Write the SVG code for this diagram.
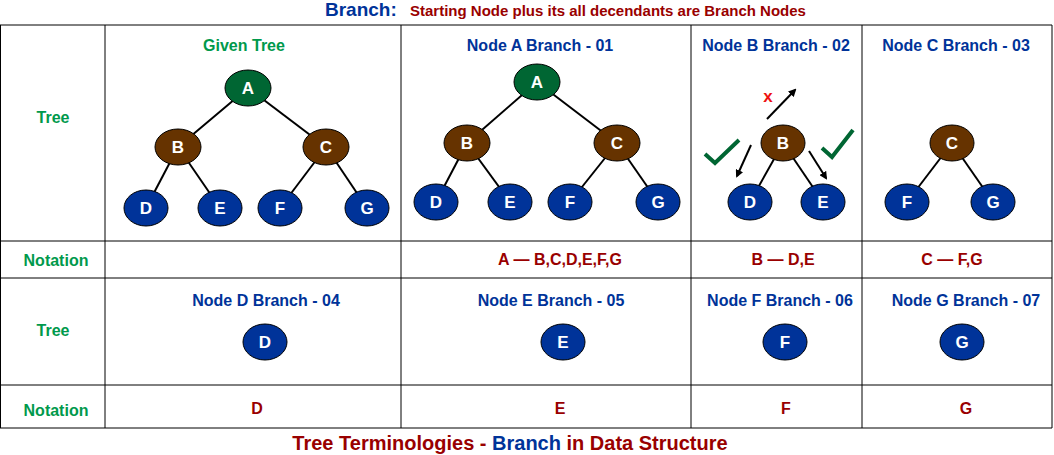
<svg xmlns="http://www.w3.org/2000/svg" width="1054" height="455" viewBox="0 0 1054 455">
<style>
text{font-family:"Liberation Sans",Arial,sans-serif;font-weight:bold}
.g{fill:#00994c;font-size:16px}
.h{fill:#003399;font-size:16px}
.r{fill:#990000;font-size:16px}
.n text{fill:#fff;font-size:17px;text-anchor:middle}
.ga{fill:#006633;stroke:#000;stroke-width:1}
.br{fill:#663300;stroke:#000;stroke-width:1}
.bl{fill:#003399;stroke:#000;stroke-width:1}
.e line{stroke:#000;stroke-width:2}
.grid line{stroke:#000;stroke-width:1}
</style>
<defs><marker id="ar" markerWidth="8" markerHeight="8" refX="6" refY="4" orient="auto" markerUnits="userSpaceOnUse" viewBox="0 0 8 8"><path d="M0,0 L8,4 L0,8 z" fill="#000"/></marker></defs>
<rect width="1054" height="455" fill="#fff"/>
<g class="grid">
<line x1="0.5" y1="25" x2="0.5" y2="428"/><line x1="105" y1="25" x2="105" y2="428"/><line x1="401" y1="25" x2="401" y2="428"/><line x1="691" y1="25" x2="691" y2="428"/><line x1="862" y1="25" x2="862" y2="428"/><line x1="1052" y1="25" x2="1052" y2="428"/>
<line x1="0" y1="25" x2="1052" y2="25"/><line x1="0" y1="241" x2="1052" y2="241"/><line x1="0" y1="278" x2="1052" y2="278"/><line x1="0" y1="385" x2="1052" y2="385"/><line x1="0" y1="428" x2="1052" y2="428"/>
</g>
<text x="325" y="16" class="h" style="font-size:19px">Branch:</text>
<text x="410" y="16" class="r" style="font-size:15px">Starting Node plus its all decendants are Branch Nodes</text>
<text x="53" y="123" class="g" text-anchor="middle">Tree</text>
<text x="56" y="266" class="g" text-anchor="middle">Notation</text>
<text x="53" y="336" class="g" text-anchor="middle">Tree</text>
<text x="56" y="416" class="g" text-anchor="middle">Notation</text>
<text x="244" y="51" class="g" text-anchor="middle">Given Tree</text>
<text x="540" y="51" class="h" text-anchor="middle">Node A Branch - 01</text>
<text x="776" y="51" class="h" text-anchor="middle">Node B Branch - 02</text>
<text x="956" y="51" class="h" text-anchor="middle">Node C Branch - 03</text>
<text x="560" y="265" class="r" text-anchor="middle">A — B,C,D,E,F,G</text>
<text x="783" y="265" class="r" text-anchor="middle">B — D,E</text>
<text x="952" y="265" class="r" text-anchor="middle">C — F,G</text>
<text x="266" y="306" class="h" text-anchor="middle">Node D Branch - 04</text>
<text x="551" y="306" class="h" text-anchor="middle">Node E Branch - 05</text>
<text x="780" y="306" class="h" text-anchor="middle">Node F Branch - 06</text>
<text x="966" y="306" class="h" text-anchor="middle">Node G Branch - 07</text>
<text x="257" y="414" class="r" text-anchor="middle">D</text>
<text x="560" y="414" class="r" text-anchor="middle">E</text>
<text x="786" y="414" class="r" text-anchor="middle">F</text>
<text x="966" y="414" class="r" text-anchor="middle">G</text>
<text x="510" y="450" class="r" text-anchor="middle" style="font-size:20px">Tree Terminologies - <tspan fill="#003399">Branch</tspan> in Data Structure</text>
<g class="e" id="connectors">
<line x1="248" y1="88" x2="178" y2="147"/><line x1="248" y1="88" x2="326" y2="147"/><line x1="178" y1="147" x2="146" y2="208"/><line x1="178" y1="147" x2="220" y2="208"/><line x1="326" y1="147" x2="280" y2="208"/><line x1="326" y1="147" x2="367" y2="208"/>
<line x1="537" y1="82" x2="467" y2="143"/><line x1="537" y1="82" x2="617" y2="143"/><line x1="467" y1="143" x2="436" y2="202"/><line x1="467" y1="143" x2="510" y2="202"/><line x1="617" y1="143" x2="570" y2="202"/><line x1="617" y1="143" x2="658" y2="202"/>
<line x1="783" y1="143" x2="750" y2="202"/><line x1="783" y1="143" x2="823" y2="202"/>
<line x1="952" y1="143" x2="907" y2="202"/><line x1="952" y1="143" x2="993" y2="202"/>
<line x1="767" y1="119" x2="795" y2="90" marker-end="url(#ar)"/>
<line x1="751" y1="145" x2="737" y2="176" marker-end="url(#ar)"/>
<line x1="809" y1="151" x2="826" y2="178" marker-end="url(#ar)"/>
</g>
<text x="768" y="102" fill="#ee1111" style="font-size:17px" text-anchor="middle">x</text>
<path d="M705,154 L715,163 L739,140" fill="none" stroke="#006633" stroke-width="4"/>
<path d="M822,148 L832,157 L853,130" fill="none" stroke="#006633" stroke-width="4"/>
<g class="n">
<g id="g1A"><ellipse cx="248" cy="88" rx="23" ry="18" class="ga"/><text x="248" y="94">A</text></g>
<g id="g1B"><ellipse cx="178" cy="147" rx="23" ry="18" class="br"/><text x="178" y="153">B</text></g>
<g id="g1C"><ellipse cx="326" cy="147" rx="23" ry="18" class="br"/><text x="326" y="153">C</text></g>
<g id="g1D"><ellipse cx="146" cy="208" rx="22" ry="18" class="bl"/><text x="146" y="214">D</text></g>
<g id="g1E"><ellipse cx="220" cy="208" rx="22" ry="18" class="bl"/><text x="220" y="214">E</text></g>
<g id="g1F"><ellipse cx="280" cy="208" rx="22" ry="18" class="bl"/><text x="280" y="214">F</text></g>
<g id="g1G"><ellipse cx="367" cy="208" rx="22" ry="18" class="bl"/><text x="367" y="214">G</text></g>
<g id="aA"><ellipse cx="537" cy="82" rx="23" ry="18" class="ga"/><text x="537" y="88">A</text></g>
<g id="aB"><ellipse cx="467" cy="143" rx="23" ry="18" class="br"/><text x="467" y="149">B</text></g>
<g id="aC"><ellipse cx="617" cy="143" rx="23" ry="18" class="br"/><text x="617" y="149">C</text></g>
<g id="aD"><ellipse cx="436" cy="202" rx="22" ry="18" class="bl"/><text x="436" y="208">D</text></g>
<g id="aE"><ellipse cx="510" cy="202" rx="22" ry="18" class="bl"/><text x="510" y="208">E</text></g>
<g id="aF"><ellipse cx="570" cy="202" rx="22" ry="18" class="bl"/><text x="570" y="208">F</text></g>
<g id="aG"><ellipse cx="658" cy="202" rx="22" ry="18" class="bl"/><text x="658" y="208">G</text></g>
<g id="bB"><ellipse cx="783" cy="143" rx="22" ry="18" class="br"/><text x="783" y="149">B</text></g>
<g id="bD"><ellipse cx="750" cy="202" rx="22" ry="18" class="bl"/><text x="750" y="208">D</text></g>
<g id="bE"><ellipse cx="823" cy="202" rx="22" ry="18" class="bl"/><text x="823" y="208">E</text></g>
<g id="cC"><ellipse cx="952" cy="143" rx="22" ry="18" class="br"/><text x="952" y="149">C</text></g>
<g id="cF"><ellipse cx="907" cy="202" rx="22" ry="18" class="bl"/><text x="907" y="208">F</text></g>
<g id="cG"><ellipse cx="993" cy="202" rx="22" ry="18" class="bl"/><text x="993" y="208">G</text></g>
<g id="dD"><ellipse cx="265" cy="342" rx="22" ry="18" class="bl"/><text x="265" y="348">D</text></g>
<g id="eE"><ellipse cx="563" cy="342" rx="22" ry="18" class="bl"/><text x="563" y="348">E</text></g>
<g id="fF"><ellipse cx="785" cy="342" rx="22" ry="18" class="bl"/><text x="785" y="348">F</text></g>
<g id="gG"><ellipse cx="962" cy="342" rx="22" ry="18" class="bl"/><text x="962" y="348">G</text></g>
</g>
</svg>
